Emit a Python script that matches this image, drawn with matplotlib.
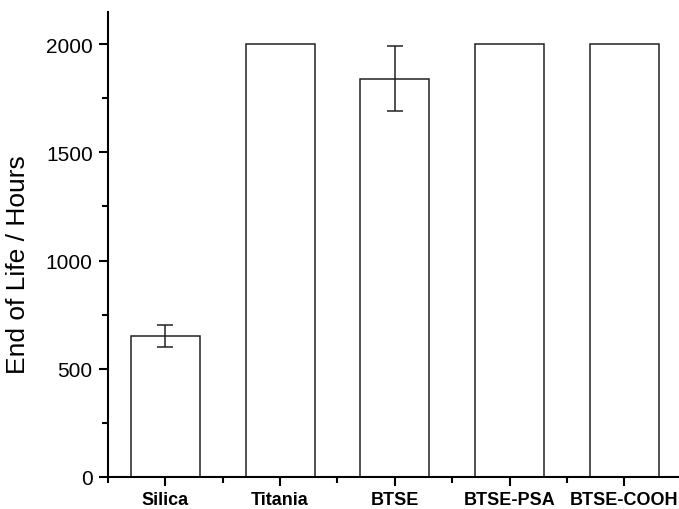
import numpy as np
import matplotlib.pyplot as plt
from matplotlib.ticker import MultipleLocator

labels = ['Silica', 'Titania', 'BTSE', 'BTSE-PSA', 'BTSE-COOH']
life = [650, 2000, 1840, 2000, 2000]
err = [50, 0, 150, 0, 0]

plt.rcParams['font.family'] = ['Liberation Sans', 'DejaVu Sans']

fig = plt.figure(figsize=(6.79, 5.10), dpi=100)
ax = fig.add_axes([0.159, 0.063, 0.845, 0.912])

x = np.arange(1, len(labels) + 1)
ax.bar(x, life, width=0.6, color='white', edgecolor='#222222', linewidth=1.1)
for xi, v, e in zip(x, life, err):
    if e > 0:
        ax.errorbar(xi, v, yerr=e, fmt='none', ecolor='#222222', elinewidth=1.1,
                    capsize=6, capthick=1.1)

ax.set_xlim(0.5, 5.5)
ax.set_ylim(0, 2150)
ax.set_xticks(x)
ax.set_xticklabels(labels, fontweight='bold', fontsize=13)
ax.xaxis.set_minor_locator(MultipleLocator(1, offset=0.5))
ax.yaxis.set_major_locator(MultipleLocator(500))
ax.yaxis.set_minor_locator(MultipleLocator(250))
ax.tick_params(axis='y', labelsize=15, pad=4.5)
ax.tick_params(axis='x', pad=4)
ax.tick_params(which='major', direction='out', length=6.5, width=1.5)
ax.tick_params(which='minor', direction='out', length=4, width=1.5)
ax.spines['top'].set_visible(False)
ax.spines['right'].set_visible(False)
for s in ['left', 'bottom']:
    ax.spines[s].set_linewidth(1.5)
ax.set_ylabel('End of Life / Hours', fontsize=19)
ax.yaxis.set_label_coords(-0.136, 0.458)

fig.savefig('out.png', dpi=100)
